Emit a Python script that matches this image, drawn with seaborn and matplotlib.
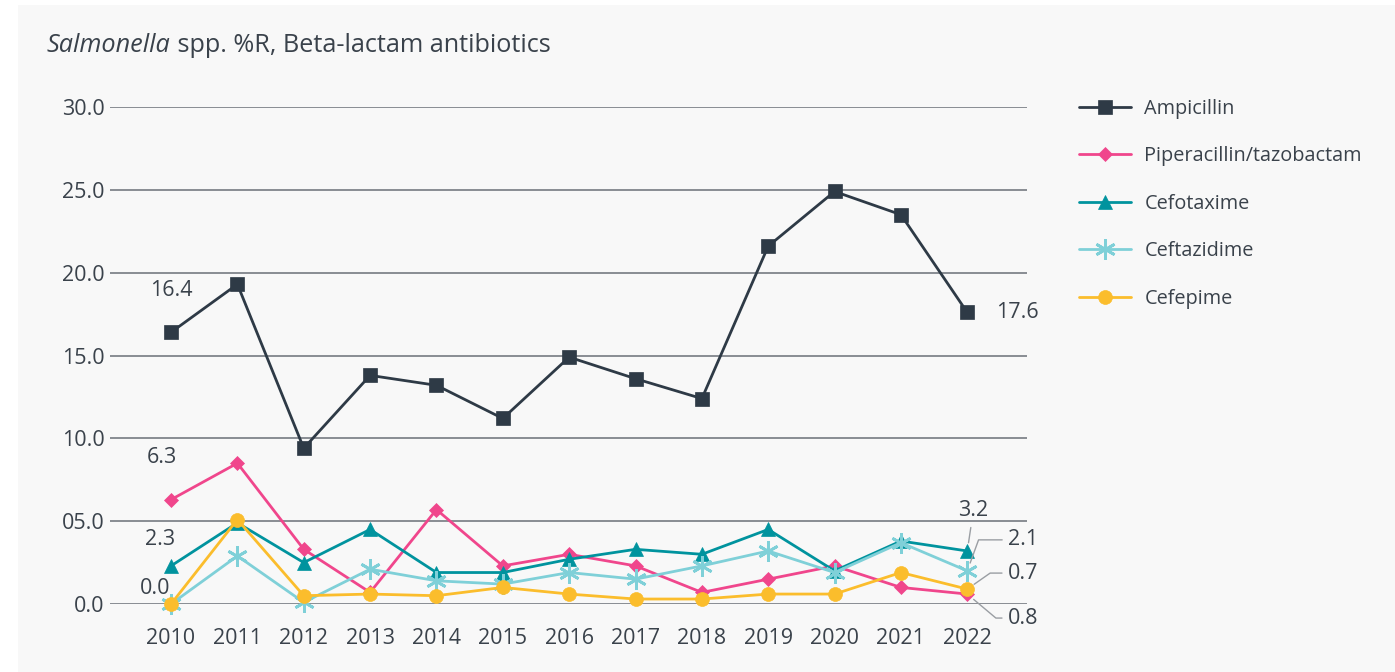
import matplotlib
matplotlib.use("Agg")
import matplotlib.pyplot as plt
from matplotlib.patches import Rectangle
import pandas as pd
import seaborn as sns

# data
years = list(range(2010, 2023))
ampicillin = [16.4, 19.3, 9.4, 13.8, 13.2, 11.2, 14.9, 13.6, 12.4, 21.6, 24.9, 23.5, 17.6]
piperacillin = [6.3, 8.5, 3.3, 0.7, 5.7, 2.3, 3.0, 2.3, 0.7, 1.5, 2.3, 1.0, 0.6]
cefotaxime = [2.3, 4.9, 2.5, 4.5, 1.9, 1.9, 2.7, 3.3, 3.0, 4.5, 2.0, 3.8, 3.2]
ceftazidime = [0.0, 2.9, 0.1, 2.1, 1.4, 1.2, 1.9, 1.5, 2.3, 3.2, 1.9, 3.7, 2.0]
cefepime = [0.0, 5.1, 0.5, 0.6, 0.5, 1.0, 0.6, 0.3, 0.3, 0.6, 0.6, 1.9, 0.9]

names = ["Ampicillin", "Piperacillin/tazobactam", "Cefotaxime", "Ceftazidime", "Cefepime"]
values = [ampicillin, piperacillin, cefotaxime, ceftazidime, cefepime]
colors = ["#2e3a46", "#f0468c", "#00939e", "#7fd0d8", "#fbbd2c"]
markers = ["s", "D", "^", (6, 2, 0), "o"]
msizes = [10, 7, 10, 15, 10]

ytick_vals = [0, 5, 10, 15, 20, 25, 30]
ytick_labels = ["0.0", "05.0", "10.0", "15.0", "20.0", "25.0", "30.0"]

df = pd.DataFrame({"year": years * len(names),
                   "drug": [n for n in names for _ in years],
                   "value": sum(values, [])})

sns.set_style("white")
plt.rcParams["font.family"] = ["Open Sans", "DejaVu Sans"]
text_col = "#3a424b"

W, H = 1395, 672
fig = plt.figure(figsize=(W / 100, H / 100), dpi=100, facecolor="white")
fig.patches.append(Rectangle((18 / W, 0), 1 - 18 / W, 1 - 5 / H, transform=fig.transFigure,
                             facecolor="#f8f8f8", edgecolor="none", zorder=-5))
ax = fig.add_axes([110 / W, 1 - 604 / H, (1027 - 110) / W, (604 - 107) / H])
ax.set_zorder(2)
ax.set_facecolor("none")

for name, col, mk, ms in zip(names, colors, markers, msizes):
    sub = df[df["drug"] == name]
    sns.lineplot(data=sub, x="year", y="value", ax=ax, color=col, marker=mk,
                 markersize=ms, markeredgecolor=col, markeredgewidth=2 if mk == (6, 2, 0) else 0.5,
                 linewidth=2, label=name, clip_on=False, legend=False, zorder=3)

ax.set_xlim(2009.08, 2022.9)
ax.set_ylim(0, 30)
ax.set_xticks(years)
ax.set_xticklabels([str(y) for y in years])
ax.set_yticks(ytick_vals)
ax.set_yticklabels(ytick_labels)
ax.tick_params(axis="both", length=0, labelsize=15.5, colors=text_col)
ax.tick_params(axis="x", pad=17)
ax.tick_params(axis="y", pad=4)
for y in ytick_vals:
    ax.axhline(y, color="#6b7077", linewidth=1.1, zorder=1)
for s in ax.spines.values():
    s.set_visible(False)
ax.set_xlabel("")
ax.set_ylabel("")

# value labels
lab = dict(fontsize=15.5, color=text_col, ha="center", va="center", textcoords="offset pixels")
ax.annotate("16.4", (2010, ampicillin[0]), xytext=(0, 42), **lab)
ax.annotate("6.3", (2010, piperacillin[0]), xytext=(-9, 42), **lab)
ax.annotate("2.3", (2010, cefotaxime[0]), xytext=(-11, 26), **lab)
ax.annotate("0.0", (2010, ceftazidime[0]), xytext=(-16, 15), **lab)
ax.annotate("17.6", (2022, ampicillin[-1]), xytext=(50, 0), **lab)
lead = dict(arrowstyle="-", color="#9a9ea3", lw=1, shrinkA=2, shrinkB=6)
ax.annotate("3.2", (2022, cefotaxime[-1]), xytext=(6, 40),
            arrowprops=dict(lead), **lab)
ax.annotate("2.1", (2022, ceftazidime[-1]), xytext=(56, 31),
            arrowprops=dict(lead, connectionstyle="angle,angleA=0,angleB=70"), **lab)
ax.annotate("0.7", (2022, cefepime[-1]), xytext=(56, 16),
            arrowprops=dict(lead, connectionstyle="angle,angleA=0,angleB=35"), **lab)
ax.annotate("0.8", (2022, piperacillin[-1]), xytext=(56, -24),
            arrowprops=dict(lead, connectionstyle="angle,angleA=0,angleB=-40"), **lab)

# title: italic genus followed by plain text
t1 = fig.text(47 / W, 1 - 45 / H, "Salmonella", fontsize=18.2, style="italic", color=text_col, va="center")
fig.canvas.draw()
bb = t1.get_window_extent()
fig.text(bb.x1 / W, 1 - 45 / H, " spp. %R, Beta-lactam antibiotics", fontsize=18.2,
         color=text_col, va="center")

handles, labels = ax.get_legend_handles_labels()
fig.legend(handles, labels, loc="upper left", bbox_to_anchor=(1061 / W, 1 - 81 / H),
           frameon=False, fontsize=14.3, handlelength=2.6, handletextpad=0.7,
           labelspacing=1.38, labelcolor=text_col)

fig.savefig("out.png", dpi=100, facecolor=fig.get_facecolor())
